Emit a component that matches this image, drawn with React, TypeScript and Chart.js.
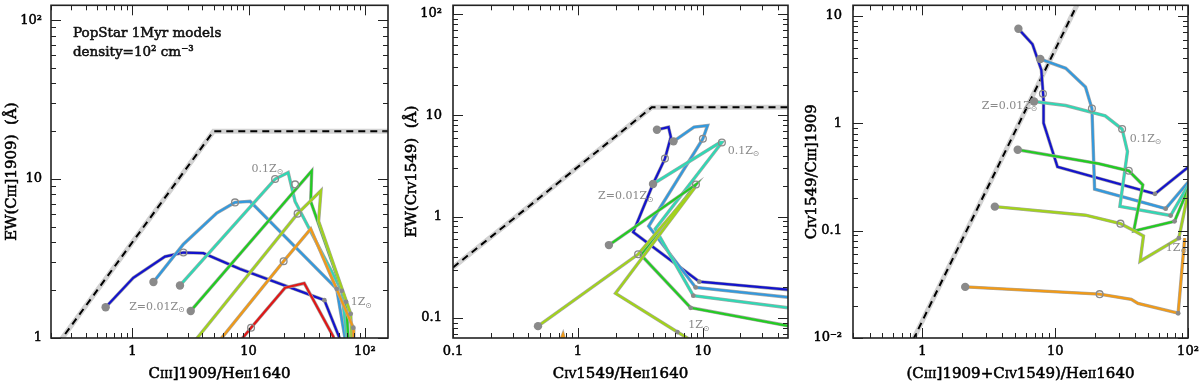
import React, { useEffect, useRef } from "react";
import { Chart, registerables } from "chart.js";

Chart.register(...registerables);

type Pt = [number, number];
type Seg = [string, number, number?];

// ---------------- Panel 1 : EW(CIII]1909) vs CIII]1909/HeII1640
const p1Blue: Pt[] = [[0.59, 1.56], [1.02, 2.39], [1.91, 3.25], [2.75, 3.45], [4.08, 3.42], [8.43, 2.72], [44.8, 1.73], [60.5, 1.0], [62, 0.9]];
const p1LightBlue: Pt[] = [[1.52, 2.25], [2.75, 3.89], [5.32, 6.11], [7.64, 7.13], [10.3, 7.24], [57.2, 2.04], [67.4, 1.0], [68.5, 0.9]];
const p1Teal: Pt[] = [[2.57, 2.14], [16.9, 10.0], [21.9, 11.0], [25.1, 7.23], [63.2, 1.98], [70, 1.0], [71, 0.9]];
const p1Green: Pt[] = [[3.18, 1.48], [34.9, 11.26], [34.2, 7.23], [68.8, 1.69], [72, 1.0], [73, 0.9]];
const p1YellowGreen: Pt[] = [[3.22, 0.9], [26.4, 6.06], [41.9, 8.46], [40.0, 5.43], [75.5, 1.42], [77, 1.0], [78, 0.9]];
const p1Orange: Pt[] = [[5.22, 0.9], [20.0, 3.04], [34.2, 4.86], [79.5, 1.16], [80, 1.0], [80.5, 0.9]];
const p1Red: Pt[] = [[7.9, 0.9], [10.5, 1.16], [20.6, 2.07], [30.1, 2.21], [53.5, 1.02], [55, 0.9]];
const p1Limit: Pt[] = [[0.2, 0.8], [5, 20], [160, 20]];
const p1Start: Pt[] = [[0.59, 1.56], [1.52, 2.25], [2.57, 2.14], [3.18, 1.48]];
const p1Mid: Pt[] = [[2.75, 3.45], [7.64, 7.13], [16.9, 10.0], [25.1, 9.26], [26.4, 6.06], [20.0, 3.04], [10.5, 1.16]];
const p1End: Pt[] = [[44.8, 1.73], [57.2, 2.04], [63.2, 1.98], [68.8, 1.69], [75.5, 1.42], [79.5, 1.16]];
const p1XRange: Pt = [0.2, 158];
const p1YRange: Pt = [1, 124];
const p1XTicks = [1, 10, 100];
const p1XLabels = ["1", "10", "10²"];
const p1YTicks = [1, 10, 100];
const p1YLabels = ["1", "10", "10²"];

// ---------------- Panel 2 : EW(CIV1549) vs CIV1549/HeII1640
const p2Blue: Pt[] = [[4.29, 7.2], [5.31, 7.65], [5.54, 6.1], [4.97, 3.74], [3.99, 2.1], [2.77, 0.702], [9.35, 0.228], [48, 0.19]];
const p2LightBlue: Pt[] = [[5.82, 5.54], [8.49, 7.65], [10.9, 7.94], [10.0, 5.88], [3.68, 0.804], [8.75, 0.2], [48, 0.16]];
const p2Teal: Pt[] = [[3.99, 2.1], [13.7, 5.4], [14.2, 5.4], [4.16, 0.757], [8.38, 0.166], [48, 0.126]];
const p2Green: Pt[] = [[1.77, 0.524], [8.8, 2.08], [3.2, 0.418], [7.98, 0.126], [48, 0.0836]];
const p2YellowGreen: Pt[] = [[0.479, 0.083], [3.03, 0.425], [8.64, 1.94], [2.0, 0.175], [6.25, 0.0726], [7.64, 0.0626], [8.2, 0.058]];
const p2Orange: Pt[] = [[0.72, 0.058], [0.76, 0.069], [0.79, 0.058]];
const p2Limit: Pt[] = [[0.1, 0.315], [3.9, 12], [48, 12]];
const p2Start: Pt[] = [[4.29, 7.2], [5.82, 5.54], [3.99, 2.1], [1.77, 0.524], [0.479, 0.083]];
const p2Mid: Pt[] = [[4.97, 3.74], [10.0, 5.88], [14.2, 5.4], [8.8, 2.08], [3.03, 0.425]];
const p2End: Pt[] = [[9.35, 0.228], [8.75, 0.2], [8.38, 0.166], [7.98, 0.126], [6.25, 0.0726]];
const p2XRange: Pt = [0.1, 48];
const p2YRange: Pt = [0.0634, 122];
const p2XTicks = [0.1, 1, 10];
const p2XLabels = ["0.1", "1", "10"];
const p2YTicks = [0.1, 1, 10, 100];
const p2YLabels = ["0.1", "1", "10", "10²"];

// ---------------- Panel 3 : CIV1549/CIII]1909 vs (CIII]1909+CIV1549)/HeII1640
const p3Blue: Pt[] = [[5.28, 7.56], [6.74, 5.43], [7.86, 3.13], [8.17, 1.66], [8.17, 1.0], [10.4, 0.392], [56.4, 0.22], [101, 0.392]];
const p3LightBlue: Pt[] = [[7.72, 3.95], [12.0, 3.24], [16.9, 2.17], [18.9, 1.37], [19.8, 0.243], [67.9, 0.16], [101, 0.285]];
const p3Teal: Pt[] = [[6.93, 1.59], [12.0, 1.46], [23.8, 1.17], [31.9, 0.881], [35.0, 0.545], [30.7, 0.168], [74, 0.138], [101, 0.268]];
const p3Green: Pt[] = [[5.22, 0.565], [21.2, 0.42], [35.8, 0.36], [45.7, 0.266], [39.0, 0.099], [79.2, 0.122], [101, 0.25]];
const p3YellowGreen: Pt[] = [[3.51, 0.167], [16.9, 0.139], [31.0, 0.116], [39.6, 0.099], [46.2, 0.089], [43.6, 0.0518], [85.3, 0.085], [101, 0.235]];
const p3Orange: Pt[] = [[2.1, 0.0299], [21.6, 0.0256], [37.4, 0.0229], [42.0, 0.021], [84.3, 0.017], [94.4, 0.085]];
const p3Limit: Pt[] = [[0.85, 0.0096], [15, 13.5]];
const p3Start: Pt[] = [[5.28, 7.56], [7.72, 3.95], [6.93, 1.59], [5.22, 0.565], [3.51, 0.167], [2.1, 0.0299]];
const p3Mid: Pt[] = [[8.08, 1.88], [18.9, 1.37], [31.9, 0.881], [35.8, 0.36], [31.0, 0.116], [21.6, 0.0256]];
const p3End: Pt[] = [[56.4, 0.22], [67.9, 0.16], [74, 0.138], [79.2, 0.122], [85.3, 0.085], [84.3, 0.017]];
const p3XRange: Pt = [0.335, 100];
const p3YRange: Pt = [0.01, 12.5];
const p3XTicks = [1, 10, 100];
const p3XLabels = ["1", "10", "10²"];
const p3YTicks = [0.01, 0.1, 1, 10];
const p3YLabels = ["10⁻²", "0.1", "1", "10"];

// ---------------- styling
const FONT = '"DejaVu Serif", serif';
const BLUE = "#1414cc";
const LBLUE = "#3399dd";
const TEAL = "#30d8b4";
const GREEN = "#22cc22";
const YGREEN = "#a2d21c";
const ORANGE = "#f09a18";
const RED = "#e01818";
const OUTLINE = "#a8a8a8";
const MARK = "#8a8a8a";
const GREYTXT = "#8a8a8a";

const SUN: Seg = ["⊙", 0.72, 0.22];

const panels = [
  {
    tracks: [[p1Blue, BLUE], [p1LightBlue, LBLUE], [p1Teal, TEAL], [p1Green, GREEN], [p1YellowGreen, YGREEN], [p1Orange, ORANGE], [p1Red, RED]] as [Pt[], string][],
    limit: p1Limit, start: p1Start, mid: p1Mid, end: p1End,
    xr: p1XRange, yr: p1YRange, xt: p1XTicks, xl: p1XLabels, yt: p1YTicks, yl: p1YLabels,
    yWidth: 51, yPad: 9,
    xTitle: [["C", 1], ["III", 0.72], ["]1909/He", 1], ["II", 0.72], ["1640", 1]] as Seg[],
    yTitle: [["EW(C", 1], ["III", 0.72], ["]1909)  (Å)", 1]] as Seg[],
    notes: [
      { x: 0.309, y: 78.8, size: 13.5, color: "#111", bold: true, segs: [["PopStar 1Myr models", 1]] as Seg[] },
      { x: 0.309, y: 59.3, size: 13.5, color: "#111", bold: true, segs: [["density=10² cm⁻³", 1]] as Seg[] },
      { x: 10.6, y: 11.1, size: 11, color: GREYTXT, segs: [["0.1Z", 1], SUN] as Seg[] },
      { x: 0.94, y: 1.5, size: 11, color: GREYTXT, segs: [["Z=0.01Z", 1], SUN] as Seg[] },
      { x: 75.5, y: 1.61, size: 11, color: GREYTXT, segs: [["1Z", 1], SUN] as Seg[] },
    ],
  },
  {
    tracks: [[p2Blue, BLUE], [p2LightBlue, LBLUE], [p2Teal, TEAL], [p2Green, GREEN], [p2YellowGreen, YGREEN], [p2Orange, ORANGE]] as [Pt[], string][],
    limit: p2Limit, start: p2Start, mid: p2Mid, end: p2End,
    xr: p2XRange, yr: p2YRange, xt: p2XTicks, xl: p2XLabels, yt: p2YTicks, yl: p2YLabels,
    yWidth: 53, yPad: 11,
    xTitle: [["C", 1], ["IV", 0.72], ["1549/He", 1], ["II", 0.72], ["1640", 1]] as Seg[],
    yTitle: [["EW(C", 1], ["IV", 0.72], ["1549)  (Å)", 1]] as Seg[],
    notes: [
      { x: 15.8, y: 4.16, size: 11, color: GREYTXT, segs: [["0.1Z", 1], SUN] as Seg[] },
      { x: 1.45, y: 1.48, size: 11, color: GREYTXT, segs: [["Z=0.01Z", 1], SUN] as Seg[] },
      { x: 7.64, y: 0.0789, size: 11, color: GREYTXT, segs: [["1Z", 1], SUN] as Seg[] },
    ],
  },
  {
    tracks: [[p3Blue, BLUE], [p3LightBlue, LBLUE], [p3Teal, TEAL], [p3Green, GREEN], [p3YellowGreen, YGREEN], [p3Orange, ORANGE]] as [Pt[], string][],
    limit: p3Limit, start: p3Start, mid: p3Mid, end: p3End,
    xr: p3XRange, yr: p3YRange, xt: p3XTicks, xl: p3XLabels, yt: p3YTicks, yl: p3YLabels,
    yWidth: 53, yPad: 11,
    xTitle: [["(C", 1], ["III", 0.72], ["]1909+C", 1], ["IV", 0.72], ["1549)/He", 1], ["II", 0.72], ["1640", 1]] as Seg[],
    yTitle: [["C", 1], ["IV", 0.72], ["1549/C", 1], ["III", 0.72], ["]1909", 1]] as Seg[],
    notes: [
      { x: 2.8, y: 1.36, size: 11, color: GREYTXT, segs: [["Z=0.01Z", 1], SUN] as Seg[] },
      { x: 36.4, y: 0.674, size: 11, color: GREYTXT, segs: [["0.1Z", 1], SUN] as Seg[] },
      { x: 68, y: 0.065, size: 11, color: GREYTXT, segs: [["1Z", 1], SUN] as Seg[] },
    ],
  },
];

const toXY = (pts: Pt[]) => pts.map(([x, y]) => ({ x, y }));

function drawRich(ctx: CanvasRenderingContext2D, segs: Seg[], x: number, y: number, size: number, align: string, color: string, bold = false) {
  let total = 0;
  const widths = segs.map(([t, s]) => {
    ctx.font = `${size * s}px ${FONT}`;
    const w = ctx.measureText(t).width;
    total += w;
    return w;
  });
  let cx = align === "center" ? x - total / 2 : align === "right" ? x - total : x;
  ctx.fillStyle = color;
  ctx.strokeStyle = color;
  ctx.lineWidth = 0.55;
  ctx.textAlign = "left";
  ctx.textBaseline = "alphabetic";
  segs.forEach(([t, s, dy], i) => {
    ctx.font = `${size * s}px ${FONT}`;
    const yy = y + (dy || 0) * size;
    if (bold) ctx.strokeText(t, cx, yy);
    ctx.fillText(t, cx, yy);
    cx += widths[i];
  });
}

function logMarks(min: number, max: number) {
  const out: [number, boolean][] = [];
  for (let d = Math.floor(Math.log10(min)) - 1; d <= Math.ceil(Math.log10(max)); d++) {
    for (let m = 1; m <= 9; m++) {
      const v = m * Math.pow(10, d);
      if (v >= min * 0.9999 && v <= max * 1.0001) out.push([v, m === 1]);
    }
  }
  return out;
}

function makeDecor(cfg: any) {
  return {
    id: "decor",
    afterDraw(chart: any) {
      const { ctx, chartArea: a, scales } = chart;
      const xs = scales.x;
      const ys = scales.y;
      ctx.save();
      ctx.strokeStyle = "#222";
      ctx.lineWidth = 1;
      ctx.beginPath();
      for (const [v, maj] of logMarks(xs.min, xs.max)) {
        const px = Math.round(xs.getPixelForValue(v)) + 0.5;
        const L = maj ? 10 : 5;
        ctx.moveTo(px, a.bottom); ctx.lineTo(px, a.bottom - L);
        ctx.moveTo(px, a.top); ctx.lineTo(px, a.top + L);
      }
      for (const [v, maj] of logMarks(ys.min, ys.max)) {
        const py = Math.round(ys.getPixelForValue(v)) + 0.5;
        const L = maj ? 10 : 5;
        ctx.moveTo(a.left, py); ctx.lineTo(a.left + L, py);
        ctx.moveTo(a.right, py); ctx.lineTo(a.right - L, py);
      }
      ctx.stroke();
      ctx.lineWidth = 1.6;
      ctx.strokeRect(a.left, a.top, a.right - a.left, a.bottom - a.top);

      for (const n of cfg.notes) {
        drawRich(ctx, n.segs, xs.getPixelForValue(n.x), ys.getPixelForValue(n.y), n.size, "left", n.color, !!n.bold);
      }
      drawRich(ctx, cfg.xTitle, (a.left + a.right) / 2, a.bottom + 40, 15, "center", "#000", true);
      ctx.translate(16, (a.top + a.bottom) / 2);
      ctx.rotate(-Math.PI / 2);
      drawRich(ctx, cfg.yTitle, 0, 0, 15, "center", "#000", true);
      ctx.restore();
    },
  };
}

function Panel({ cfg }: { cfg: any }) {
  const ref = useRef<HTMLCanvasElement>(null);
  useEffect(() => {
    const datasets: any[] = [];
    datasets.push({ data: toXY(cfg.limit), showLine: true, borderColor: "#d2d2d2", borderWidth: 5, pointRadius: 0, order: 301 });
    datasets.push({ data: toXY(cfg.limit), showLine: true, borderColor: "#000", borderWidth: 2, borderDash: [7, 5], pointRadius: 0, order: 300 });
    cfg.tracks.forEach(([pts, color]: [Pt[], string], i: number) => {
      datasets.push({ data: toXY(pts), showLine: true, borderColor: OUTLINE, borderWidth: 3.4, pointRadius: 0, order: 201 - 2 * i });
      datasets.push({ data: toXY(pts), showLine: true, borderColor: color, borderWidth: 2.2, pointRadius: 0, order: 200 - 2 * i });
    });
    datasets.push({ data: toXY(cfg.start), showLine: false, pointRadius: 4.2, backgroundColor: MARK, borderWidth: 0, order: 0 });
    datasets.push({ data: toXY(cfg.mid), showLine: false, pointRadius: 3.4, backgroundColor: "rgba(0,0,0,0)", borderColor: MARK, borderWidth: 1.3, order: 0 });
    datasets.push({ data: toXY(cfg.end), showLine: false, pointRadius: 2.4, backgroundColor: MARK, borderWidth: 0, order: 0 });

    const tickFont = { family: FONT, size: 13 };
    const chart = new Chart(ref.current as HTMLCanvasElement, {
      type: "scatter",
      data: { datasets },
      plugins: [makeDecor(cfg)],
      options: {
        animation: false,
        responsive: true,
        maintainAspectRatio: false,
        events: [],
        layout: { padding: { left: 0, right: 12, top: 1, bottom: 0 } },
        plugins: { legend: { display: false }, tooltip: { enabled: false } },
        scales: {
          x: {
            type: "logarithmic",
            position: "bottom",
            min: cfg.xr[0],
            max: cfg.xr[1],
            grid: { display: false, drawTicks: false },
            border: { display: false },
            ticks: { font: tickFont, color: "#000", textStrokeColor: "#000", textStrokeWidth: 0.5, padding: 6, maxRotation: 0, autoSkip: false, callback: (_v: any, i: number) => cfg.xl[i] ?? "" },
            afterBuildTicks: (s: any) => { s.ticks = cfg.xt.map((v: number) => ({ value: v })); },
            afterFit: (s: any) => { s.height = 43; s.paddingLeft = 0; s.paddingRight = 0; s.paddingTop = 0; s.paddingBottom = 0; },
          },
          y: {
            type: "logarithmic",
            position: "left",
            min: cfg.yr[0],
            max: cfg.yr[1],
            grid: { display: false, drawTicks: false },
            border: { display: false },
            ticks: { font: tickFont, color: "#000", textStrokeColor: "#000", textStrokeWidth: 0.5, padding: cfg.yPad, autoSkip: false, callback: (_v: any, i: number) => cfg.yl[i] ?? "" },
            afterBuildTicks: (s: any) => { s.ticks = cfg.yt.map((v: number) => ({ value: v })); },
            afterFit: (s: any) => { s.width = cfg.yWidth; s.paddingLeft = 0; s.paddingRight = 0; s.paddingTop = 0; s.paddingBottom = 0; },
          },
        },
      } as any,
    });
    return () => chart.destroy();
  }, [cfg]);
  return (
    <div style={{ position: "relative", width: 400, height: 381, flex: "0 0 400px" }}>
      <canvas ref={ref} />
    </div>
  );
}

export default function App() {
  return (
    <>
      <style>{`body{margin:0;background:#fff}`}</style>
      <div style={{ display: "flex", width: 1200, height: 381, background: "#fff" }}>
        {panels.map((p, i) => (
          <Panel key={i} cfg={p} />
        ))}
      </div>
    </>
  );
}
